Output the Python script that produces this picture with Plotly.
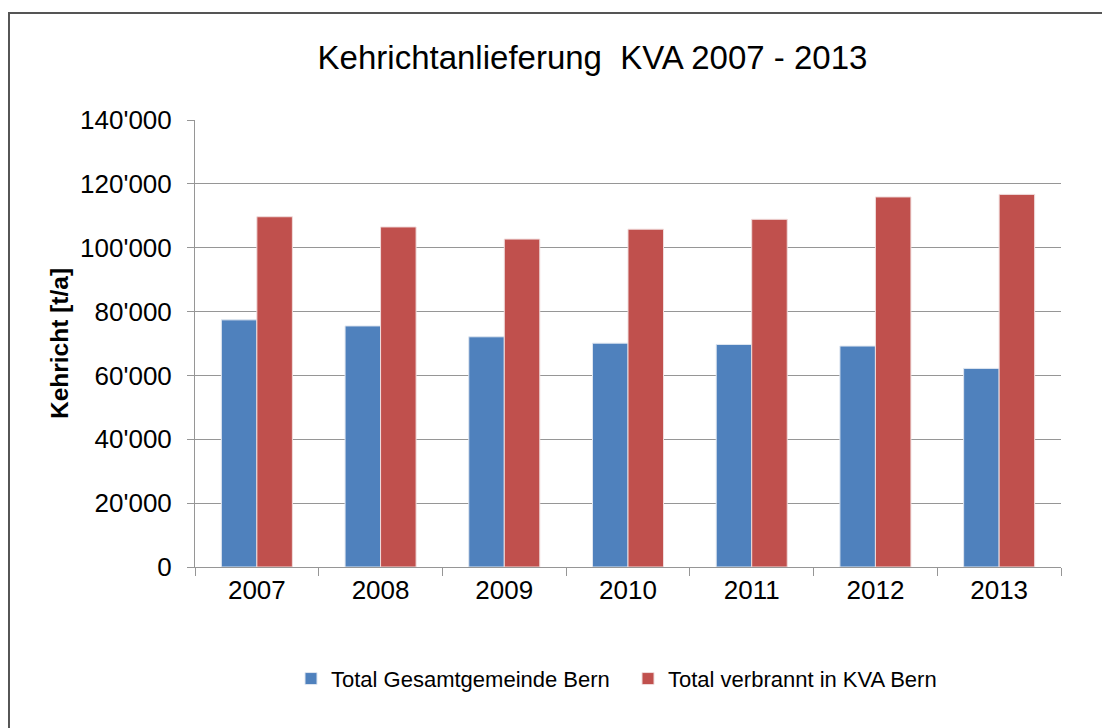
import plotly.graph_objects as go

years = ["2007", "2008", "2009", "2010", "2011", "2012", "2013"]
total_gemeinde = [77400, 75500, 72100, 70100, 69700, 69200, 62200]
total_kva = [109700, 106500, 102700, 105800, 108900, 115900, 116700]
y_tickvals = [0, 20000, 40000, 60000, 80000, 100000, 120000, 140000]
y_ticktext = ["0", "20'000", "40'000", "60'000", "80'000", "100'000", "120'000", "140'000"]

FONT = "Liberation Sans, Arial, sans-serif"
GRID = "#969696"

fig = go.Figure()
fig.add_trace(go.Bar(x=years, y=total_gemeinde, name="Total Gesamtgemeinde Bern",
                     marker=dict(color="#4f81bd", line=dict(color="#dfe6f0", width=1))))
fig.add_trace(go.Bar(x=years, y=total_kva, name="Total verbrannt in KVA Bern",
                     marker=dict(color="#c0504d", line=dict(color="#f0dcdc", width=1))))

# page body has an 8px margin, so the figure is drawn 8px smaller and offset
fig.update_layout(
    width=1102, height=720,
    margin=dict(l=187, r=49, t=112, b=161),
    paper_bgcolor="white", plot_bgcolor="white",
    font=dict(family=FONT, color="black"),
    title=dict(text="Kehrichtanlieferung\u00a0\u00a0KVA 2007 - 2013", x=0.5304, xanchor="center",
               y=1 - 49 / 720, yanchor="middle", font=dict(size=33, family=FONT, color="black")),
    barmode="group", bargap=0.426, bargroupgap=0,
    showlegend=True,
    legend=dict(orientation="h", x=0.5, xanchor="center", y=-0.25, yanchor="middle",
                font=dict(size=22, family=FONT), bgcolor="rgba(0,0,0,0)", traceorder="normal",
                entrywidth=292, entrywidthmode="pixels"),
    shapes=[dict(type="rect", xref="paper", yref="paper", x0=-0.2148, x1=1.1, y0=-0.4, y1=1.2394,
                 line=dict(color="#555555", width=2), fillcolor="rgba(0,0,0,0)", layer="below")],
)
fig.update_xaxes(type="category", showline=True, linecolor=GRID, linewidth=1,
                 ticks="outside", tickson="boundaries", ticklen=8, tickcolor=GRID,
                 tickfont=dict(size=26, family=FONT, color="black"), showgrid=False)
fig.update_yaxes(range=[0, 140000], tickvals=y_tickvals, ticktext=y_ticktext,
                 showline=True, linecolor=GRID, linewidth=1,
                 ticks="outside", ticklen=7, tickcolor=GRID, ticklabelstandoff=10,
                 showgrid=True, gridcolor=GRID, gridwidth=1, zeroline=False,
                 tickfont=dict(size=26, family=FONT, color="black"),
                 title=dict(text="<b>Kehricht [t/a]</b>", font=dict(size=24.5, family=FONT, color="black"),
                            standoff=4))

fig.write_html("out.html")
